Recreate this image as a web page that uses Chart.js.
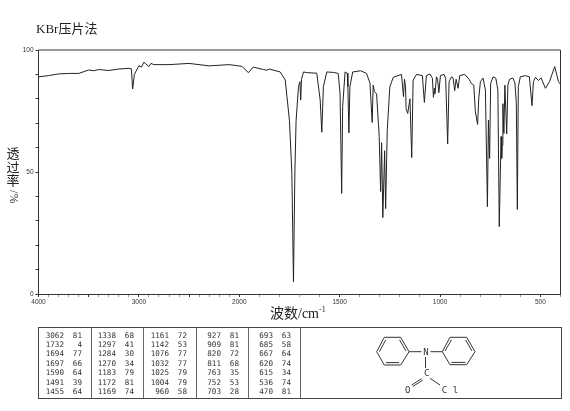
<!DOCTYPE html>
<html lang="en">
<head>
<meta charset="utf-8">
<script src="https://cdn.jsdelivr.net/npm/chart.js@4/dist/chart.umd.min.js"></script>
<style>
    html, body { margin: 0; padding: 0; background: #fff; }
    #wrap { position: relative; width: 570px; height: 411px; overflow: hidden; }
    #content { position: absolute; left: 0; top: 0; }
    .txt { position: absolute; color: #222; font-family: "Liberation Serif", "Noto Sans CJK SC", serif; white-space: nowrap; }
    #title { left: 36px; top: 20px; font-size: 13px; line-height: 18px; }
    #ylabel { left: 6px; top: 147px; width: 14px; font-size: 13px; line-height: 13.5px; text-align: center; }
    #ylabel div { display: block; }
    #ylabel .turn { transform: rotate(90deg); font-size: 12px; margin-top: 2px; }
    #xlabel { left: 270px; top: 305px; font-size: 14px; line-height: 18px; }
    #xlabel sup { font-size: 8px; line-height: 0; }
    #peaks { position: absolute; left: 38px; top: 327px; width: 522px; height: 70px; border: 1px solid #444; box-sizing: content-box; }
    .col { position: absolute; top: 0; height: 70px; border-right: 1.5px solid #666; font: 7.6px/9.45px "DejaVu Sans Mono", monospace; color: #333; }
    .row { position: absolute; left: 0; width: 100%; height: 9.45px; }
    .row span { position: absolute; top: 0; text-align: right; }
    #mol { position: absolute; left: 0; top: 0; }
</style>
</head>
<body>
<div id="wrap">
    <canvas id="content" width="570" height="411"></canvas>
    <div class="txt" id="title">KBr压片法</div>
    <div class="txt" id="ylabel"><div>透</div><div>过</div><div>率</div><div class="turn">/%</div></div>
    <div class="txt" id="xlabel">波数/cm<sup>-1</sup></div>
    <div id="peaks"></div>
    <svg id="mol" width="570" height="411" stroke="#333" stroke-width="1" fill="none">
        <polygon points="376.7,351.7 384.3,337.3 400.7,337.3 409,351.7 400.7,365 384.3,365"/>
        <line x1="379.5" y1="351.5" x2="385.8" y2="339.8"/>
        <line x1="399.5" y1="339.8" x2="406" y2="351"/>
        <line x1="386" y1="362.6" x2="399" y2="362.6"/>
        <polygon points="442.3,351.7 450,337.3 466.7,337.3 475,351.7 466.7,364.7 450,364.7"/>
        <line x1="451.5" y1="339.8" x2="445" y2="351"/>
        <line x1="465.5" y1="339.8" x2="472" y2="351"/>
        <line x1="451.5" y1="362.4" x2="465.5" y2="362.4"/>
        <line x1="409" y1="351.7" x2="421.5" y2="351.7"/>
        <line x1="430.5" y1="351.7" x2="442.3" y2="351.7"/>
        <line x1="425.5" y1="357" x2="425.5" y2="368"/>
        <line x1="421.7" y1="378.6" x2="411.7" y2="385"/>
        <line x1="422.7" y1="380.2" x2="412.7" y2="386.6"/>
        <line x1="430" y1="378.3" x2="440" y2="385"/>
        <g fill="#333" stroke="none" font-family="DejaVu Sans Mono, monospace" font-size="9" text-anchor="middle">
            <text x="426" y="355">N</text>
            <text x="426.7" y="376">C</text>
            <text x="407.7" y="393">O</text>
            <text x="450" y="393">C l</text>
        </g>
    </svg>
</div>
<script>
    // spectrum
    var waveNumbers = [4000, 3900, 3800, 3700, 3600, 3500, 3450, 3400, 3300, 3200, 3100, 3075, 3062, 3045, 3000, 2975, 2950, 2900, 2880, 2850,
        2700, 2500, 2300, 2100, 1986, 1955, 1930, 1880, 1862, 1850, 1796, 1771, 1750, 1738, 1730, 1723, 1717, 1705, 1698, 1694, 1690, 1680,
        1660, 1614, 1597, 1589, 1581, 1564, 1530, 1507, 1498, 1490, 1485, 1473, 1462, 1459, 1454, 1449, 1435, 1395, 1366, 1349, 1338, 1333, 1327,
        1316, 1303, 1296, 1291, 1285, 1276, 1271, 1263, 1250, 1233, 1192, 1182, 1177, 1172, 1169, 1161, 1150, 1141, 1134, 1117, 1088, 1078, 1068,
        1051, 1038, 1033, 1028, 1025, 1018, 1012, 1006, 998, 980, 972, 962, 955, 943, 935, 927, 920, 910, 902, 877, 855, 844, 832, 824, 813, 807,
        799, 786, 774, 764, 759, 753, 748, 736, 722, 712, 705, 696, 693, 690, 687, 682, 677, 668, 662, 654, 637, 627, 620, 615, 610, 600,
        575, 555, 542, 535, 525, 510, 497, 475, 455, 429, 410, 400];
    var transmittance = [89, 89.5, 90.2, 90.4, 90.4, 91.8, 91.5, 92, 91.6, 92.2, 92.5, 92.3, 84, 90, 93.6, 93, 95, 93.2, 94.5, 94,
        94, 94.5, 93.5, 94, 93.3, 90.7, 93, 92, 91.7, 92.2, 91, 87.7, 71, 49.5, 4.9, 50, 71, 85, 87, 79.5, 88, 91,
        90.7, 90.5, 79.5, 66.3, 85, 91, 90.8, 90.4, 82, 41.2, 76.8, 91, 90.5, 85, 66, 85, 91, 91.5, 90.4, 86.4, 70.3, 85.6, 83,
        82, 64.5, 42, 62, 31.3, 58.7, 35, 67, 85, 88.8, 90, 80.9, 88, 85, 76, 74, 80, 55.9, 87.7, 90, 89.5, 78.5, 89.5,
        90.2, 88.4, 80.6, 84.3, 82, 89, 88, 82.5, 89.5, 90, 88.4, 61.5, 87, 89, 88.5, 83.3, 88, 84.3, 89.5, 90, 88, 86.3, 85.6, 74.7, 69.5, 80.3,
        87, 88.5, 83.6, 35.8, 71.3, 55.6, 86.3, 89, 88.4, 83.6, 27.6, 64.5, 55.6, 61, 78, 65.8, 85.6, 65.6, 85.6, 88, 88.5, 86.5, 78, 34.7, 85, 89,
        89.5, 89, 77.2, 87, 88.8, 87.5, 88.6, 84.3, 87, 93.2, 87, 86];

    var xTicks = [4000, 3900, 3800, 3700, 3600, 3500, 3400, 3300, 3200, 3100, 3000, 2900, 2800, 2700, 2600, 2500, 2400, 2300, 2200, 2100,
        2000, 1900, 1800, 1700, 1600, 1500, 1400, 1300, 1200, 1100, 1000, 900, 800, 700, 600, 500, 400];
    var xMajorTicks = [4000, 3500, 3000, 2500, 2000, 1500, 1000, 500];
    var xTickLabels = [4000, 3000, 2000, 1500, 1000, 500];
    var yTickLabels = [0, 50, 100];

    // peak table, five columns of seven
    var peakWaves = [
        [3062, 1732, 1694, 1697, 1590, 1491, 1455],
        [1338, 1297, 1284, 1270, 1183, 1172, 1169],
        [1161, 1142, 1076, 1032, 1025, 1004, 960],
        [927, 909, 820, 811, 763, 752, 703],
        [693, 685, 667, 620, 615, 536, 470]
    ];
    var peakValues = [
        [81, 4, 77, 66, 64, 39, 64],
        [68, 41, 30, 34, 79, 81, 74],
        [72, 53, 77, 77, 79, 79, 58],
        [81, 81, 72, 68, 35, 53, 28],
        [63, 58, 64, 74, 34, 74, 81]
    ];
    var colRight = [52, 104, 157, 209, 261];

    var box = document.getElementById("peaks");
    for (var c = 0; c < peakWaves.length; c++) {
        var col = document.createElement("div");
        col.className = "col";
        var left = c === 0 ? 0 : colRight[c - 1];
        col.style.left = left + "px";
        col.style.width = (colRight[c] - left) + "px";
        for (var r = 0; r < 7; r++) {
            var row = document.createElement("div");
            row.className = "row";
            row.style.top = (2.5 + r * 9.45) + "px";
            row.innerHTML = '<span style="right:27px">' + peakWaves[c][r] + '</span><span style="right:9px">' + peakValues[c][r] + '</span>';
            col.appendChild(row);
        }
        box.appendChild(col);
    }

    // the chart paper doubles the scale below 2000 cm-1
    class WavenumberScale extends Chart.LinearScale {
        getPixelForValue(value) {
            var units = value >= 2000 ? 4000 - value : 2000 + (2000 - value) * 2;
            return this.left + units / 5200 * this.width;
        }
    }
    WavenumberScale.id = "wavenumber";
    WavenumberScale.defaults = Chart.LinearScale.defaults;
    Chart.register(WavenumberScale);

    var framePlugin = {
        id: "frame",
        afterDraw: function (chart) {
            var a = chart.chartArea, g = chart.ctx;
            g.save();
            g.strokeStyle = "#777";
            g.lineWidth = 1.5;
            g.beginPath();
            g.moveTo(a.left, a.top);
            g.lineTo(a.right, a.top);
            g.stroke();
            g.strokeStyle = "#333";
            g.lineWidth = 1;
            g.beginPath();
            g.moveTo(a.right, a.top);
            g.lineTo(a.right, a.bottom);
            g.stroke();
            g.restore();
        }
    };

    var points = [];
    for (var i = 0; i < waveNumbers.length; i++) {
        points.push({x: waveNumbers[i], y: transmittance[i]});
    }

    var ctx = document.getElementById("content").getContext("2d");
    new Chart(ctx, {
        type: "line",
        data: {
            datasets: [{
                data: points,
                borderColor: "#222",
                borderWidth: 1,
                pointRadius: 0,
                tension: 0,
                fill: false
            }]
        },
        plugins: [framePlugin],
        options: {
            responsive: false,
            animation: false,
            events: [],
            layout: {padding: {top: 50, left: 0, right: 9.5, bottom: 97}},
            plugins: {legend: {display: false}, tooltip: {enabled: false}},
            scales: {
                x: {
                    type: "wavenumber",
                    min: 400,
                    max: 4000,
                    afterBuildTicks: function (scale) {
                        scale.ticks = xTicks.map(function (v) { return {value: v}; });
                    },
                    afterFit: function (scale) { scale.height = 20; },
                    grid: {
                        drawOnChartArea: false,
                        tickLength: 3,
                        tickColor: function (c) { return xMajorTicks.indexOf(c.tick.value) >= 0 ? "#333" : "#999"; }
                    },
                    border: {color: "#333", width: 1},
                    ticks: {
                        autoSkip: false,
                        maxRotation: 0,
                        padding: 1,
                        color: "#333",
                        font: {family: "Liberation Sans", size: 6.5},
                        callback: function (v) { return xTickLabels.indexOf(v) >= 0 ? String(v) : ""; }
                    }
                },
                y: {
                    min: 0,
                    max: 100,
                    afterFit: function (scale) { scale.width = 38.5; },
                    grid: {drawOnChartArea: false, tickLength: 3, color: "#333"},
                    border: {color: "#333", width: 1},
                    ticks: {
                        stepSize: 10,
                        autoSkip: false,
                        padding: 2,
                        color: "#333",
                        font: {family: "Liberation Sans", size: 6.5},
                        callback: function (v) { return yTickLabels.indexOf(v) >= 0 ? String(v) : ""; }
                    }
                }
            }
        }
    });
</script>
</body>
</html>
